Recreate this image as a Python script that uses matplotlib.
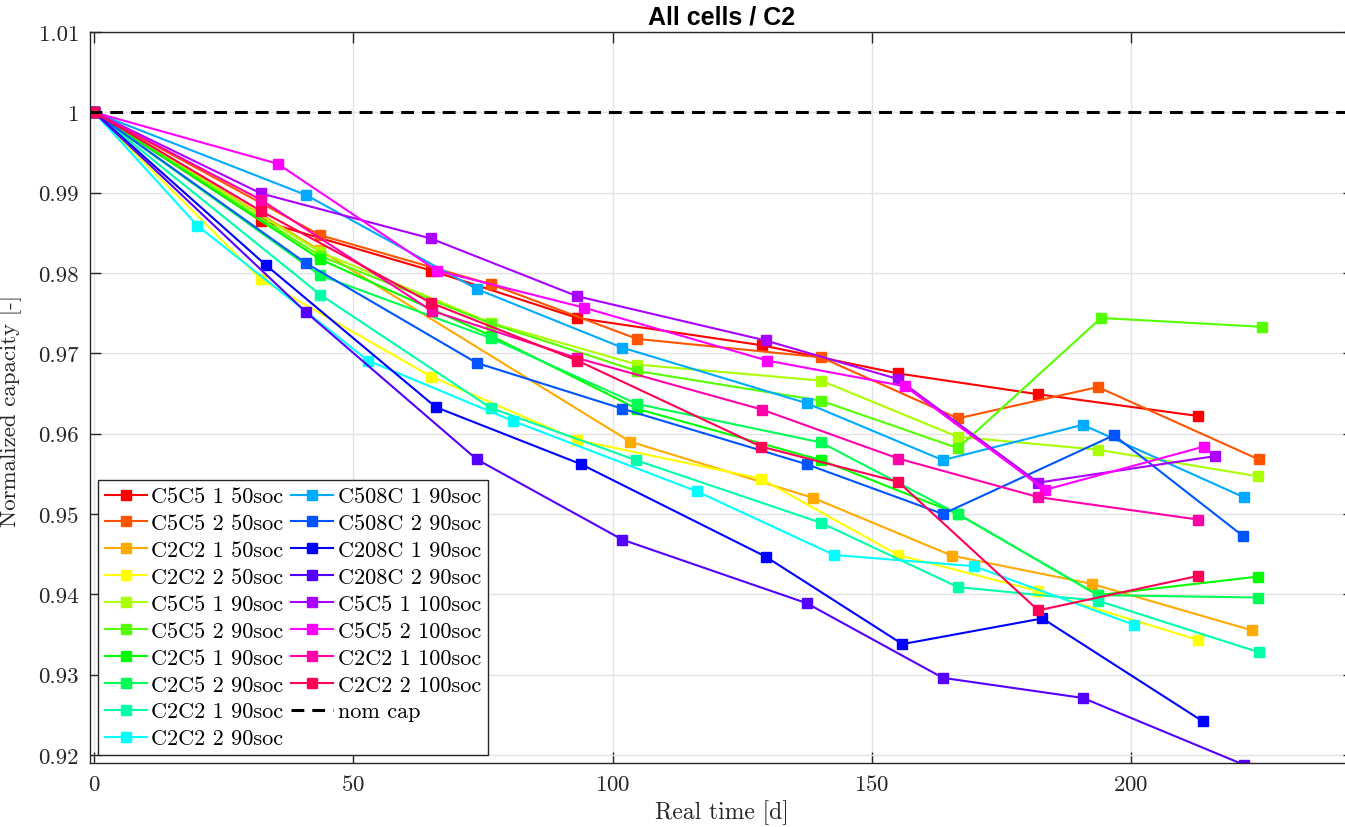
import colorsys
import numpy as np
import matplotlib
matplotlib.use("Agg")
import matplotlib.pyplot as plt
from matplotlib.ticker import FuncFormatter

# --- data (time in days, normalized capacity) ---
t_c5c5_1_50 = [0, 32.2, 65.0, 93.2, 128.8, 155.0, 182.1, 212.9]
q_c5c5_1_50 = [1, 0.9865, 0.9803, 0.9744, 0.9710, 0.9675, 0.9649, 0.9622]
t_c5c5_2_50 = [0, 43.6, 76.5, 104.7, 140.2, 166.6, 193.6, 224.6]
q_c5c5_2_50 = [1, 0.9847, 0.9786, 0.9718, 0.9695, 0.9619, 0.9658, 0.9568]
t_c2c2_1_50 = [0, 43.6, 103.4, 138.7, 165.5, 192.4, 223.4]
q_c2c2_1_50 = [1, 0.9828, 0.9590, 0.9520, 0.9448, 0.9413, 0.9355]
t_c2c2_2_50 = [0, 32.2, 65.0, 93.2, 128.6, 155.0, 182.1, 213.0]
q_c2c2_2_50 = [1, 0.9792, 0.9671, 0.9592, 0.9544, 0.9449, 0.9404, 0.9343]
t_c5c5_1_90 = [0, 43.6, 76.5, 104.7, 140.2, 166.6, 193.6, 224.4]
q_c5c5_1_90 = [1, 0.9826, 0.9738, 0.9686, 0.9666, 0.9596, 0.9580, 0.9547]
t_c5c5_2_90 = [0, 43.6, 76.5, 104.7, 140.2, 166.6, 194.2, 225.3]
q_c5c5_2_90 = [1, 0.9821, 0.9737, 0.9678, 0.9641, 0.9582, 0.9744, 0.9733]
t_c2c5_1_90 = [0, 43.6, 76.5, 104.7, 140.2, 166.6, 193.6, 224.4]
q_c2c5_1_90 = [1, 0.9817, 0.9722, 0.9631, 0.9567, 0.9500, 0.9399, 0.9422]
t_c2c5_2_90 = [0, 43.6, 76.5, 104.7, 140.2, 166.6, 193.6, 224.4]
q_c2c5_2_90 = [1, 0.9797, 0.9719, 0.9637, 0.9589, 0.9500, 0.9399, 0.9396]
t_c2c2_1_90 = [0, 43.6, 76.5, 104.5, 140.2, 166.6, 193.6, 224.6]
q_c2c2_1_90 = [1, 0.9773, 0.9632, 0.9567, 0.9489, 0.9409, 0.9392, 0.9328]
t_c2c2_2_90 = [0, 19.9, 52.8, 80.7, 116.3, 142.7, 169.7, 200.6]
q_c2c2_2_90 = [1, 0.9859, 0.9691, 0.9616, 0.9528, 0.9449, 0.9435, 0.9362]
t_c508c_1_90 = [0, 40.9, 73.8, 101.9, 137.4, 163.7, 190.7, 221.7]
q_c508c_1_90 = [1, 0.9897, 0.9780, 0.9707, 0.9638, 0.9567, 0.9611, 0.9521]
t_c508c_2_90 = [0, 40.9, 73.8, 101.9, 137.4, 163.7, 196.7, 221.5]
q_c508c_2_90 = [1, 0.9812, 0.9688, 0.9631, 0.9562, 0.9500, 0.9598, 0.9473]
t_c208c_1_90 = [0, 33.1, 65.9, 93.9, 129.5, 155.9, 182.9, 213.8]
q_c208c_1_90 = [1, 0.9810, 0.9633, 0.9562, 0.9447, 0.9338, 0.9370, 0.9242]
t_c208c_2_90 = [0, 40.9, 73.8, 101.9, 137.4, 163.7, 190.7, 221.7]
q_c208c_2_90 = [1, 0.9751, 0.9568, 0.9468, 0.9389, 0.9296, 0.9271, 0.9188]
t_c5c5_1_100 = [0, 32.2, 64.9, 93.2, 129.5, 155.0, 182.1, 216.2]
q_c5c5_1_100 = [1, 0.9899, 0.9843, 0.9771, 0.9716, 0.9668, 0.9539, 0.9572]
t_c5c5_2_100 = [0, 35.4, 66.1, 94.4, 129.8, 156.4, 183.4, 214.1]
q_c5c5_2_100 = [1, 0.9936, 0.9803, 0.9757, 0.9691, 0.9659, 0.9530, 0.9584]
t_c2c2_1_100 = [0, 32.2, 65.1, 93.2, 128.8, 155.1, 182.1, 213.0]
q_c2c2_1_100 = [1, 0.9891, 0.9753, 0.9694, 0.9630, 0.9569, 0.9521, 0.9493]
t_c2c2_2_100 = [0, 32.2, 64.9, 93.2, 128.6, 155.1, 182.1, 213.0]
q_c2c2_2_100 = [1, 0.9877, 0.9763, 0.9691, 0.9584, 0.9540, 0.9380, 0.9423]

labels = ["C5C5 1 50soc", "C5C5 2 50soc", "C2C2 1 50soc", "C2C2 2 50soc",
          "C5C5 1 90soc", "C5C5 2 90soc", "C2C5 1 90soc", "C2C5 2 90soc",
          "C2C2 1 90soc", "C2C2 2 90soc", "C508C 1 90soc", "C508C 2 90soc",
          "C208C 1 90soc", "C208C 2 90soc", "C5C5 1 100soc", "C5C5 2 100soc",
          "C2C2 1 100soc", "C2C2 2 100soc"]
times = [t_c5c5_1_50, t_c5c5_2_50, t_c2c2_1_50, t_c2c2_2_50, t_c5c5_1_90,
         t_c5c5_2_90, t_c2c5_1_90, t_c2c5_2_90, t_c2c2_1_90, t_c2c2_2_90,
         t_c508c_1_90, t_c508c_2_90, t_c208c_1_90, t_c208c_2_90,
         t_c5c5_1_100, t_c5c5_2_100, t_c2c2_1_100, t_c2c2_2_100]
caps = [q_c5c5_1_50, q_c5c5_2_50, q_c2c2_1_50, q_c2c2_2_50, q_c5c5_1_90,
        q_c5c5_2_90, q_c2c5_1_90, q_c2c5_2_90, q_c2c2_1_90, q_c2c2_2_90,
        q_c508c_1_90, q_c508c_2_90, q_c208c_1_90, q_c208c_2_90,
        q_c5c5_1_100, q_c5c5_2_100, q_c2c2_1_100, q_c2c2_2_100]

nom_time = [-1, 250]
nom_cap = [1, 1]

plt.rcParams['font.family'] = 'cmr10'
plt.rcParams['axes.formatter.use_mathtext'] = True

fig = plt.figure(figsize=(13.45, 8.28), dpi=100)
# axes runs a little past the right edge, as in the reference (no right spine)
ax = fig.add_axes([90/1345, 1-764/828, 1264/1345, 731/828])

for i in range(len(labels)):
    col = colorsys.hsv_to_rgb(i/18.0, 1, 1)
    ax.plot(times[i], caps[i], '-s', color=col, lw=1.5, ms=7.5,
            label=labels[i])
ax.plot(nom_time, nom_cap, color='black', lw=2.2,
        linestyle=(0, (4.2, 2.6)), label='nom cap')

ax.set_xlim(-0.8, 243.0)
ax.set_ylim(0.919, 1.01)
ax.set_xticks([0, 50, 100, 150, 200])
ax.set_yticks(np.arange(0.92, 1.0101, 0.01))
ax.yaxis.set_major_formatter(FuncFormatter(lambda v, p: '%g' % round(v, 2)))
ax.grid(True, color='#e3e3e3', lw=1)
ax.set_axisbelow(True)
ax.tick_params(direction='in', length=8, width=1, top=True, right=True,
               labelsize=16.5, colors='#262626', pad=8)
for s in ax.spines.values():
    s.set_color('#262626')
    s.set_linewidth(1)

ax.set_xlabel('Real time [d]', fontsize=17, color='#262626', labelpad=4)
ax.set_ylabel('Normalized capacity [-]', fontsize=16.5, color='#262626')
ax.yaxis.set_label_coords(-0.054, 0.483)
ax.set_title('All cells / C2', fontsize=18, fontweight='bold',
             family='Liberation Sans', pad=6)

leg = ax.legend(loc='lower left', ncol=2, fontsize=16, handlelength=1.9,
                handletextpad=0.2, columnspacing=0.35, labelspacing=0.33,
                borderpad=0.3, borderaxespad=0.36, fancybox=False,
                framealpha=1)
leg.get_frame().set_edgecolor('#262626')
leg.get_frame().set_linewidth(1)

fig.savefig('out.png', dpi=100)
